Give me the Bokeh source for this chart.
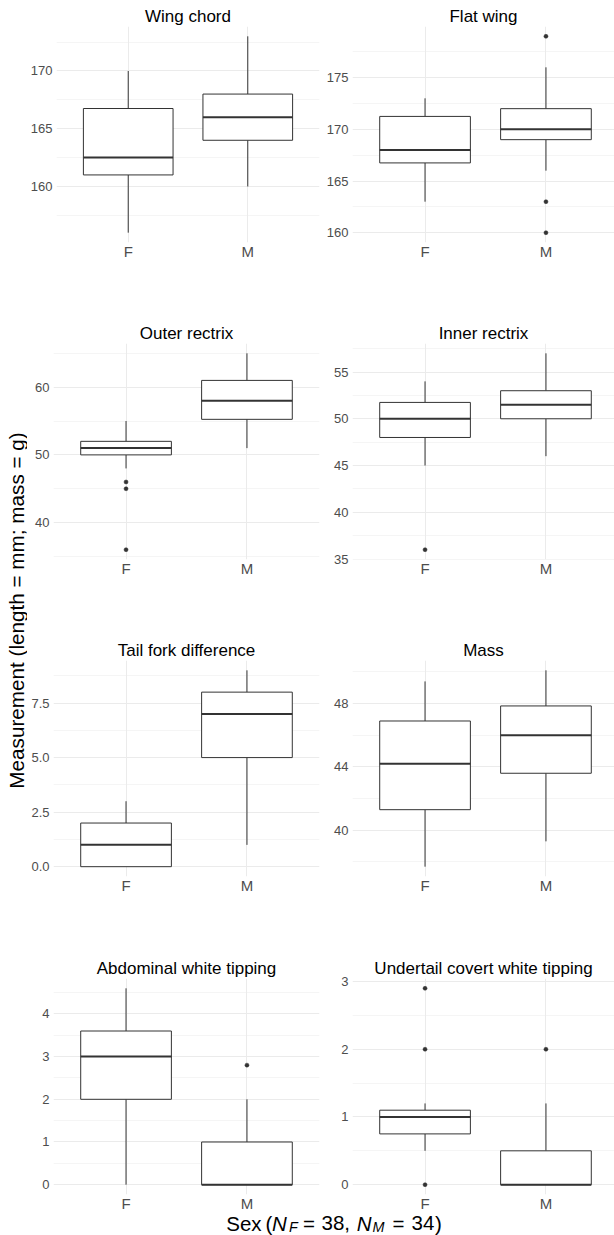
import math
from bokeh.plotting import figure
from bokeh.layouts import row, column
from bokeh.models import ColumnDataSource, Range1d, FixedTicker, Label, Title
from bokeh.embed import file_html
from bokeh.resources import INLINE

# ---------------- data ----------------
sexes = ["F", "M"]
titles = ["Wing chord", "Flat wing", "Outer rectrix", "Inner rectrix",
          "Tail fork difference", "Mass", "Abdominal white tipping",
          "Undertail covert white tipping"]

# five-number summaries: [lower whisker, Q1, median, Q3, upper whisker]
wing_chord_F = [156, 161, 162.5, 166.75, 170]
wing_chord_M = [160, 164, 166, 168, 173]
flat_wing_F = [163, 166.75, 168, 171.25, 173]
flat_wing_M = [166, 169, 170, 172, 176]
outer_rectrix_F = [48, 50, 51, 52, 55]
outer_rectrix_M = [51, 55.25, 58, 61, 65]
inner_rectrix_F = [45, 48, 50, 51.75, 54]
inner_rectrix_M = [46, 50, 51.5, 53, 57]
tail_fork_F = [0, 0, 1, 2, 3]
tail_fork_M = [1, 5, 7, 8, 9]
mass_F = [37.7, 41.3, 44.2, 46.9, 49.4]
mass_M = [39.3, 43.6, 46.0, 47.85, 50.1]
abdominal_F = [0, 2, 3, 3.6, 4.6]
abdominal_M = [0, 0, 0, 1, 2]
undertail_F = [0.5, 0.75, 1.0, 1.1, 1.2]
undertail_M = [0, 0, 0, 0.5, 1.2]

# outliers
flat_wing_M_out = [179, 163, 160]
outer_rectrix_F_out = [46, 45, 36]
inner_rectrix_F_out = [36]
abdominal_M_out = [2.8]
undertail_F_out = [2.9, 2, 0]
undertail_M_out = [2]

# y ticks and labels
wing_chord_ticks = [160, 165, 170]
wing_chord_labels = ["160", "165", "170"]
wing_chord_minor = [157.5, 162.5, 167.5, 172.5]
flat_wing_ticks = [160, 165, 170, 175]
flat_wing_labels = ["160", "165", "170", "175"]
flat_wing_minor = [162.5, 167.5, 172.5, 177.5]
outer_rectrix_ticks = [40, 50, 60]
outer_rectrix_labels = ["40", "50", "60"]
outer_rectrix_minor = [35, 45, 55, 65]
inner_rectrix_ticks = [35, 40, 45, 50, 55]
inner_rectrix_labels = ["35", "40", "45", "50", "55"]
inner_rectrix_minor = [37.5, 42.5, 47.5, 52.5, 57.5]
tail_fork_ticks = [0, 2.5, 5, 7.5]
tail_fork_labels = ["0.0", "2.5", "5.0", "7.5"]
tail_fork_minor = [1.25, 3.75, 6.25, 8.75]
mass_ticks = [40, 44, 48]
mass_labels = ["40", "44", "48"]
mass_minor = [38, 42, 46, 50]
abdominal_ticks = [0, 1, 2, 3, 4]
abdominal_labels = ["0", "1", "2", "3", "4"]
abdominal_minor = [0.5, 1.5, 2.5, 3.5, 4.5]
undertail_ticks = [0, 1, 2, 3]
undertail_labels = ["0", "1", "2", "3"]
undertail_minor = [0.5, 1.5, 2.5]

y_title = "Measurement (length = mm; mass = g)"

panels = [
    (wing_chord_F, wing_chord_M, [], [], wing_chord_ticks, wing_chord_minor, wing_chord_labels),
    (flat_wing_F, flat_wing_M, [], flat_wing_M_out, flat_wing_ticks, flat_wing_minor, flat_wing_labels),
    (outer_rectrix_F, outer_rectrix_M, outer_rectrix_F_out, [], outer_rectrix_ticks, outer_rectrix_minor, outer_rectrix_labels),
    (inner_rectrix_F, inner_rectrix_M, inner_rectrix_F_out, [], inner_rectrix_ticks, inner_rectrix_minor, inner_rectrix_labels),
    (tail_fork_F, tail_fork_M, [], [], tail_fork_ticks, tail_fork_minor, tail_fork_labels),
    (mass_F, mass_M, [], [], mass_ticks, mass_minor, mass_labels),
    (abdominal_F, abdominal_M, [], abdominal_M_out, abdominal_ticks, abdominal_minor, abdominal_labels),
    (undertail_F, undertail_M, undertail_F_out, undertail_M_out, undertail_ticks, undertail_minor, undertail_labels),
]

# ---------------- style / layout ----------------
FONT = "Liberation Sans"
BOX = "#333333"
GRID = "#EBEBEB"
TICK_TXT = "#4D4D4D"
PAGE_W, PAGE_H = 614, 1235
YLAB_W = 27
ROW_H = [317, 317, 318, 262]
XLAB_OVERLAP = 3
XLAB_H = PAGE_H - sum(ROW_H) + XLAB_OVERLAP
TOP = 26
FRAME_H = 216
LEFT_W = 293
RIGHT_W = PAGE_W - YLAB_W - LEFT_W
LEFT_FRAME_W = 266
RIGHT_BORDER_L = 32
RIGHT_FRAME_W = RIGHT_W - RIGHT_BORDER_L
PPU = LEFT_FRAME_W / 2.2
MID = 0.3465  # em offset of the text "middle" above the alphabetic baseline


def make_panel(idx):
    f, m, fo, mo, ticks, minor, labels = panels[idx]
    col = idx % 2
    r = idx // 2
    h = ROW_H[r]
    left = col == 0
    w = LEFT_W if left else RIGHT_W
    fw = LEFT_FRAME_W if left else RIGHT_FRAME_W
    vals = f + m + fo + mo
    lo, hi = min(vals), max(vals)
    pad = 0.05 * (hi - lo)
    p = figure(width=w, height=h,
               x_range=Range1d(0.4, 0.4 + fw / PPU),
               y_range=Range1d(lo - pad, hi + pad),
               output_backend="svg", toolbar_location=None,
               min_border_left=26 if left else RIGHT_BORDER_L,
               min_border_right=1 if left else 0,
               min_border_top=TOP, min_border_bottom=h - TOP - FRAME_H)
    p.outline_line_color = None
    p.background_fill_color = "white"
    p.border_fill_color = "white"

    xs = [1, 2]
    p.xaxis.ticker = FixedTicker(ticks=xs)
    p.xaxis.major_label_overrides = dict(zip(xs, sexes))
    p.yaxis.ticker = FixedTicker(ticks=ticks, minor_ticks=minor)
    p.yaxis.major_label_overrides = dict(zip(ticks, labels))
    for ax in (p.xaxis[0], p.yaxis[0]):
        ax.axis_line_color = None
        ax.major_tick_line_color = None
        ax.minor_tick_line_color = None
        ax.major_tick_out = 0
        ax.major_tick_in = 0
        ax.minor_tick_out = 0
        ax.minor_tick_in = 0
        ax.major_label_text_font = FONT
        ax.major_label_text_color = TICK_TXT
    p.xaxis.major_label_text_font_size = "15px"
    p.xaxis.major_label_standoff = 0
    p.yaxis.major_label_text_font_size = "13px"
    p.yaxis.major_label_standoff = 4

    p.xgrid.ticker = FixedTicker(ticks=xs)
    p.xgrid.grid_line_color = GRID
    p.xgrid.grid_line_width = 1
    p.ygrid.ticker = FixedTicker(ticks=ticks, minor_ticks=minor)
    p.ygrid.grid_line_color = GRID
    p.ygrid.grid_line_width = 1
    p.ygrid.minor_grid_line_color = GRID
    p.ygrid.minor_grid_line_width = 0.5

    bw = 0.75
    src = ColumnDataSource(dict(
        x=xs,
        xl=[x - bw / 2 for x in xs],
        xr=[x + bw / 2 for x in xs],
        lower=[f[0], m[0]], q1=[f[1], m[1]], med=[f[2], m[2]],
        q3=[f[3], m[3]], upper=[f[4], m[4]],
    ))
    p.segment(x0="x", y0="lower", x1="x", y1="q1", source=src, line_color=BOX, line_width=1)
    p.segment(x0="x", y0="q3", x1="x", y1="upper", source=src, line_color=BOX, line_width=1)
    p.vbar(x="x", width=bw, bottom="q1", top="q3", source=src,
           fill_color="white", line_color=BOX, line_width=1)
    p.segment(x0="xl", y0="med", x1="xr", y1="med", source=src, line_color=BOX, line_width=2)
    ox = [1] * len(fo) + [2] * len(mo)
    oy = fo + mo
    if oy:
        p.scatter(x=ox, y=oy, size=4, fill_color=BOX, line_color=BOX, line_width=0.5)

    p.add_layout(Title(text=titles[idx], align="center", standoff=2,
                       text_font=FONT, text_font_size="17px", text_font_style="normal",
                       text_color="black"), "above")
    return p


figs = [make_panel(i) for i in range(8)]

# y-axis title (figure whose ranges equal page pixels)
yl = figure(width=YLAB_W, height=PAGE_H, x_range=Range1d(0, YLAB_W), y_range=Range1d(PAGE_H, 0),
            output_backend="svg", toolbar_location=None, x_axis_type=None, y_axis_type=None,
            min_border=0, min_border_left=0, min_border_right=0, min_border_top=0, min_border_bottom=0)
yl.outline_line_color = None
YL_SIZE = 20.7
yl.add_layout(Label(x=22.8 - MID * YL_SIZE, y=610, text=y_title, angle=math.pi / 2,
                    text_align="center", text_baseline="middle",
                    text_font=FONT, text_font_size=f"{YL_SIZE}px", text_color="black"))

# x-axis title (figure whose ranges equal page pixels); overlaps the empty strip under row 4
xl_top = PAGE_H - XLAB_H
xl = figure(width=PAGE_W - YLAB_W, height=XLAB_H,
            x_range=Range1d(YLAB_W, PAGE_W), y_range=Range1d(PAGE_H, xl_top),
            output_backend="svg", toolbar_location=None, x_axis_type=None, y_axis_type=None,
            min_border=0, min_border_left=0, min_border_right=0, min_border_top=0, min_border_bottom=0,
            margin=(-XLAB_OVERLAP, 0, 0, 0))
xl.outline_line_color = None
xl.background_fill_alpha = 0
xl.border_fill_alpha = 0
BASE = 1230.0
XS = 20.5
SUB = 0.7 * XS
frags = [("Sex", 225.8, "normal", XS, 0), ("(", 265.0, "normal", XS, 0),
         ("N", 271.5, "italic", XS, 0), ("F", 288.5, "italic", SUB, 1.5),
         ("=", 302.5, "normal", XS, 0), ("38,", 321.0, "normal", XS, 0),
         ("N", 356.3, "italic", XS, 0), ("M", 372.0, "italic", SUB, 1.5),
         ("=", 392.0, "normal", XS, 0), ("34", 411.0, "normal", XS, 0),
         (")", 434.6, "normal", XS, 0)]
for t, px, style, size, dy in frags:
    xl.add_layout(Label(x=px, y=BASE + dy - MID * size, text=t, text_align="left",
                        text_baseline="middle",
                        text_font=FONT, text_font_style=style, text_font_size=f"{size}px",
                        text_color="black"))

layout = row(yl, column(row(figs[0], figs[1]), row(figs[2], figs[3]),
                        row(figs[4], figs[5]), row(figs[6], figs[7]), xl))

open("out.html", "w").write(file_html(layout, INLINE))
